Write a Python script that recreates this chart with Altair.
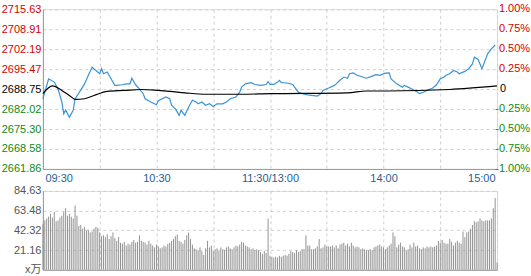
import altair as alt
import pandas as pd

FONT = "Liberation Sans, Arial, Noto Sans CJK SC"
RED = "#d40000"
GREEN = "#108a10"
BLUE = "#3a94d4"
TIME_COLOR = "#1f5f94"
GRID = "#cfcfcf"
FRAME = "#9a9a9a"

prev_close = 2688.75
price_ticks = [2715.63, 2708.91, 2702.19, 2695.47, 2688.75, 2682.02, 2675.30, 2668.58, 2661.86]
pct_labels = ["1.00%", "0.75%", "0.50%", "0.25%", "0", "-0.25%", "-0.50%", "-0.75%", "-1.00%"]
pct_kind = ["pos", "pos", "pos", "pos", "zero", "neg", "neg", "neg", "neg"]
vol_ticks = [0, 21.16, 42.32, 63.48, 84.63]
grid_minutes = [0, 30, 60, 90, 120, 150, 180, 210, 240]
time_ticks = [0, 60, 120, 180, 240]
time_labels = ["09:30", "10:30", "11:30/13:00", "14:00", "15:00"]

# price line (minute index, price)
price_t = [0, 3, 6, 8, 10, 11, 12, 14, 16, 17, 20, 22, 24, 26, 28, 30, 31, 32, 34, 36,
           38, 39, 42, 44, 46, 47, 49, 51, 53, 54, 57, 60, 61, 65, 67, 68, 70, 72, 73, 75,
           77, 79, 81, 82, 84, 86, 88, 90, 92, 95, 97, 99, 102, 104, 105, 107, 110, 112, 115, 118,
           119, 120, 122, 124, 125, 126, 129, 132, 133, 135, 137, 140, 142, 145, 147, 148, 151, 154, 155, 157,
           159, 161, 162, 164, 166, 169, 171, 174, 176, 178, 181, 183, 184, 187, 190, 191, 193, 195, 198, 199,
           201, 203, 205, 206, 208, 210, 212, 213, 215, 217, 219, 220, 223, 225, 227, 228, 230, 232, 234, 235,
           237, 239]
price_v = [2685.5, 2692.2, 2691.1, 2688.8, 2684.4, 2680.4, 2681.7, 2679.3, 2681.6, 2685.5,
           2688.4, 2690.5, 2693.4, 2696.1, 2695.0, 2693.9, 2695.6, 2693.9, 2694.5, 2692.2,
           2690.0, 2690.0, 2690.2, 2690.5, 2690.5, 2692.4, 2690.2, 2688.8, 2687.2, 2685.5,
           2684.4, 2683.5, 2684.8, 2686.1, 2685.5, 2683.3, 2682.1, 2679.9, 2681.6, 2679.9,
           2682.7, 2685.0, 2684.4, 2683.8, 2684.4, 2683.3, 2683.8, 2682.9, 2683.8, 2683.8,
           2684.4, 2685.5, 2686.1, 2687.7, 2689.4, 2690.5, 2690.9, 2690.3, 2690.0, 2690.3,
           2691.3, 2690.3, 2690.3, 2691.1, 2691.7, 2690.9, 2690.8, 2690.3, 2689.4, 2687.7,
           2687.2, 2686.8, 2686.6, 2686.4, 2687.2, 2688.3, 2689.1, 2690.0, 2690.5, 2691.7,
           2692.8, 2692.4, 2693.9, 2694.2, 2693.4, 2692.8, 2692.4, 2693.1, 2693.6, 2693.4,
           2694.1, 2694.2, 2692.2, 2690.5, 2689.4, 2690.0, 2689.4, 2688.8, 2687.7, 2687.2,
           2687.7, 2688.3, 2688.8, 2689.1, 2690.2, 2692.2, 2692.8, 2693.4, 2693.9, 2695.0,
           2694.5, 2693.9, 2694.7, 2695.6, 2697.2, 2699.5, 2698.7, 2695.6, 2698.9, 2700.6,
           2702.3, 2703.6]

# average price line
avg_t = [0, 5, 10, 15, 17, 22, 27, 34, 43, 52, 61, 67, 75, 86, 104, 120, 161, 171, 182, 215, 240]
avg_v = [2687.2, 2689.8, 2688.3, 2686.1, 2685.3, 2685.5, 2686.6, 2688.0, 2688.3, 2688.6,
         2688.3, 2688.0, 2687.5, 2687.0, 2687.0, 2687.2, 2687.5, 2688.1, 2688.1, 2688.6, 2689.8]

# volume per minute (x10k)
volume = [49, 53, 55, 57, 60, 56, 62, 52, 53, 56,
          58, 62, 66, 58, 60, 57, 55, 69, 58, 47,
          48, 44, 46, 42, 43, 40, 41, 44, 46, 45,
          40, 36, 37, 35, 38, 33, 36, 40, 34, 31,
          35, 29, 28, 30, 26, 28, 27, 30, 32, 29,
          30, 37, 31, 30, 29, 27, 31, 28, 26, 24,
          27, 25, 23, 24, 26, 25, 28, 29, 31, 33,
          36, 38, 31, 30, 28, 32, 37, 40, 33, 27,
          23, 22, 21, 24, 20, 16, 23, 31, 24, 26,
          20, 22, 23, 20, 24, 22, 21, 24, 25, 23,
          22, 24, 26, 25, 27, 30, 29, 26, 25, 24,
          22, 23, 21, 22, 21, 19, 17, 20, 18, 55,
          15, 14, 13, 14, 13, 15, 14, 15, 16, 15,
          17, 20, 19, 18, 21, 19, 20, 22, 22, 37,
          26, 26, 22, 22, 23, 25, 33, 23, 24, 27,
          25, 25, 25, 26, 24, 26, 23, 27, 28, 29,
          26, 28, 25, 29, 26, 24, 25, 24, 22, 23,
          22, 21, 21, 22, 21, 24, 25, 26, 27, 25,
          24, 22, 24, 26, 28, 40, 36, 24, 27, 29,
          25, 24, 21, 22, 27, 24, 29, 25, 26, 23,
          22, 24, 23, 25, 24, 25, 24, 25, 26, 31,
          29, 32, 29, 28, 28, 33, 30, 26, 29, 31,
          29, 28, 41, 35, 40, 41, 44, 48, 52, 51,
          52, 55, 53, 52, 53, 53, 53, 55, 66, 77,
          8]

df_price = pd.DataFrame({"t": price_t, "p": price_v})
df_avg = pd.DataFrame({"t": avg_t, "p": avg_v})
df_pct = pd.DataFrame({"p": price_ticks, "lab": pct_labels, "kind": pct_kind})
df_vol = pd.DataFrame({"t": list(range(len(volume))), "v": volume})

W, H_TOP, H_BOT = 455, 160, 79

label_expr = " : ".join(f"datum.value == {m} ? '{lab}'" for m, lab in zip(time_ticks, time_labels)) + " : ''"

x_scale = alt.Scale(domain=[0, 240], nice=False, zero=False)
x_top = alt.X("t:Q", scale=x_scale, axis=alt.Axis(
    values=grid_minutes, grid=True, gridDash=[3, 3], gridColor=GRID, ticks=False, tickSize=0,
    domainColor=FRAME, labelExpr=label_expr, labelFlush=True, labelFlushOffset=-2,
    labelOverlap=False, labelColor=TIME_COLOR, labelFont=FONT, labelFontSize=11,
    labelPadding=4, title=None))
y_top = alt.Y("p:Q", scale=alt.Scale(domain=[price_ticks[-1], price_ticks[0]], nice=False, zero=False),
              axis=alt.Axis(values=price_ticks, format=".2f", grid=True, gridDash=[3, 3], gridColor=GRID,
                            ticks=False, tickSize=0, domainColor=FRAME, labelFont=FONT, labelFontSize=11,
                            labelPadding=2, title=None, labelOverlap=False,
                            labelColor={"condition": [
                                {"test": f"datum.value > {prev_close + 0.01}", "value": RED},
                                {"test": f"datum.value < {prev_close - 0.01}", "value": GREEN}],
                                "value": "#000000"}))

price_line = alt.Chart(df_price).mark_line(color=BLUE, strokeWidth=1.2).encode(x=x_top, y=y_top)
avg_line = alt.Chart(df_avg).mark_line(color="#000000", strokeWidth=1.2, interpolate="monotone").encode(x=x_top, y=y_top)

pct_color = alt.Color("kind:N", scale=alt.Scale(domain=["pos", "zero", "neg"], range=[RED, "#000000", GREEN]), legend=None)
pct_nonzero = alt.Chart(df_pct).transform_filter("datum.kind != 'zero'").mark_text(
    align="right", baseline="middle", font=FONT, fontSize=11).encode(
    x=alt.value(W + 33), y=y_top, text="lab:N", color=pct_color)
pct_zero = alt.Chart(df_pct).transform_filter("datum.kind == 'zero'").mark_text(
    align="left", baseline="middle", font=FONT, fontSize=11).encode(
    x=alt.value(W + 3), y=y_top, text="lab:N", color=pct_color)

top = alt.layer(price_line, avg_line, pct_nonzero, pct_zero).properties(width=W, height=H_TOP)

x_bot = alt.X("t:Q", scale=x_scale, axis=alt.Axis(
    values=grid_minutes, grid=True, gridDash=[3, 3], gridColor=GRID, ticks=False, tickSize=0,
    domainColor=FRAME, labels=False, title=None))
y_bot = alt.Y("v:Q", scale=alt.Scale(domain=[0, vol_ticks[-1]], nice=False, zero=True),
              axis=alt.Axis(values=vol_ticks, grid=True, gridDash=[3, 3], gridColor=GRID, ticks=False,
                            tickSize=0, domainColor=FRAME, labelFont=FONT, labelFontSize=11,
                            labelColor="#555555", labelPadding=2, title=None, labelOverlap=False,
                            labelExpr="datum.value == 0 ? 'x万' : format(datum.value, '.2f')"))
bars = alt.Chart(df_vol).mark_rule(color="#939393", strokeWidth=1).encode(
    x=x_bot, y=y_bot, y2=alt.datum(0))
bottom = bars.properties(width=W, height=H_BOT)

chart = alt.vconcat(top, bottom, spacing=22, bounds="flush").properties(
    padding={"left": 0, "top": 2, "right": 0, "bottom": 0}
).configure_view(stroke=FRAME, strokeWidth=1).configure(background="#ffffff")

chart.save("out.html", embed_options={"renderer": "svg", "actions": False})
